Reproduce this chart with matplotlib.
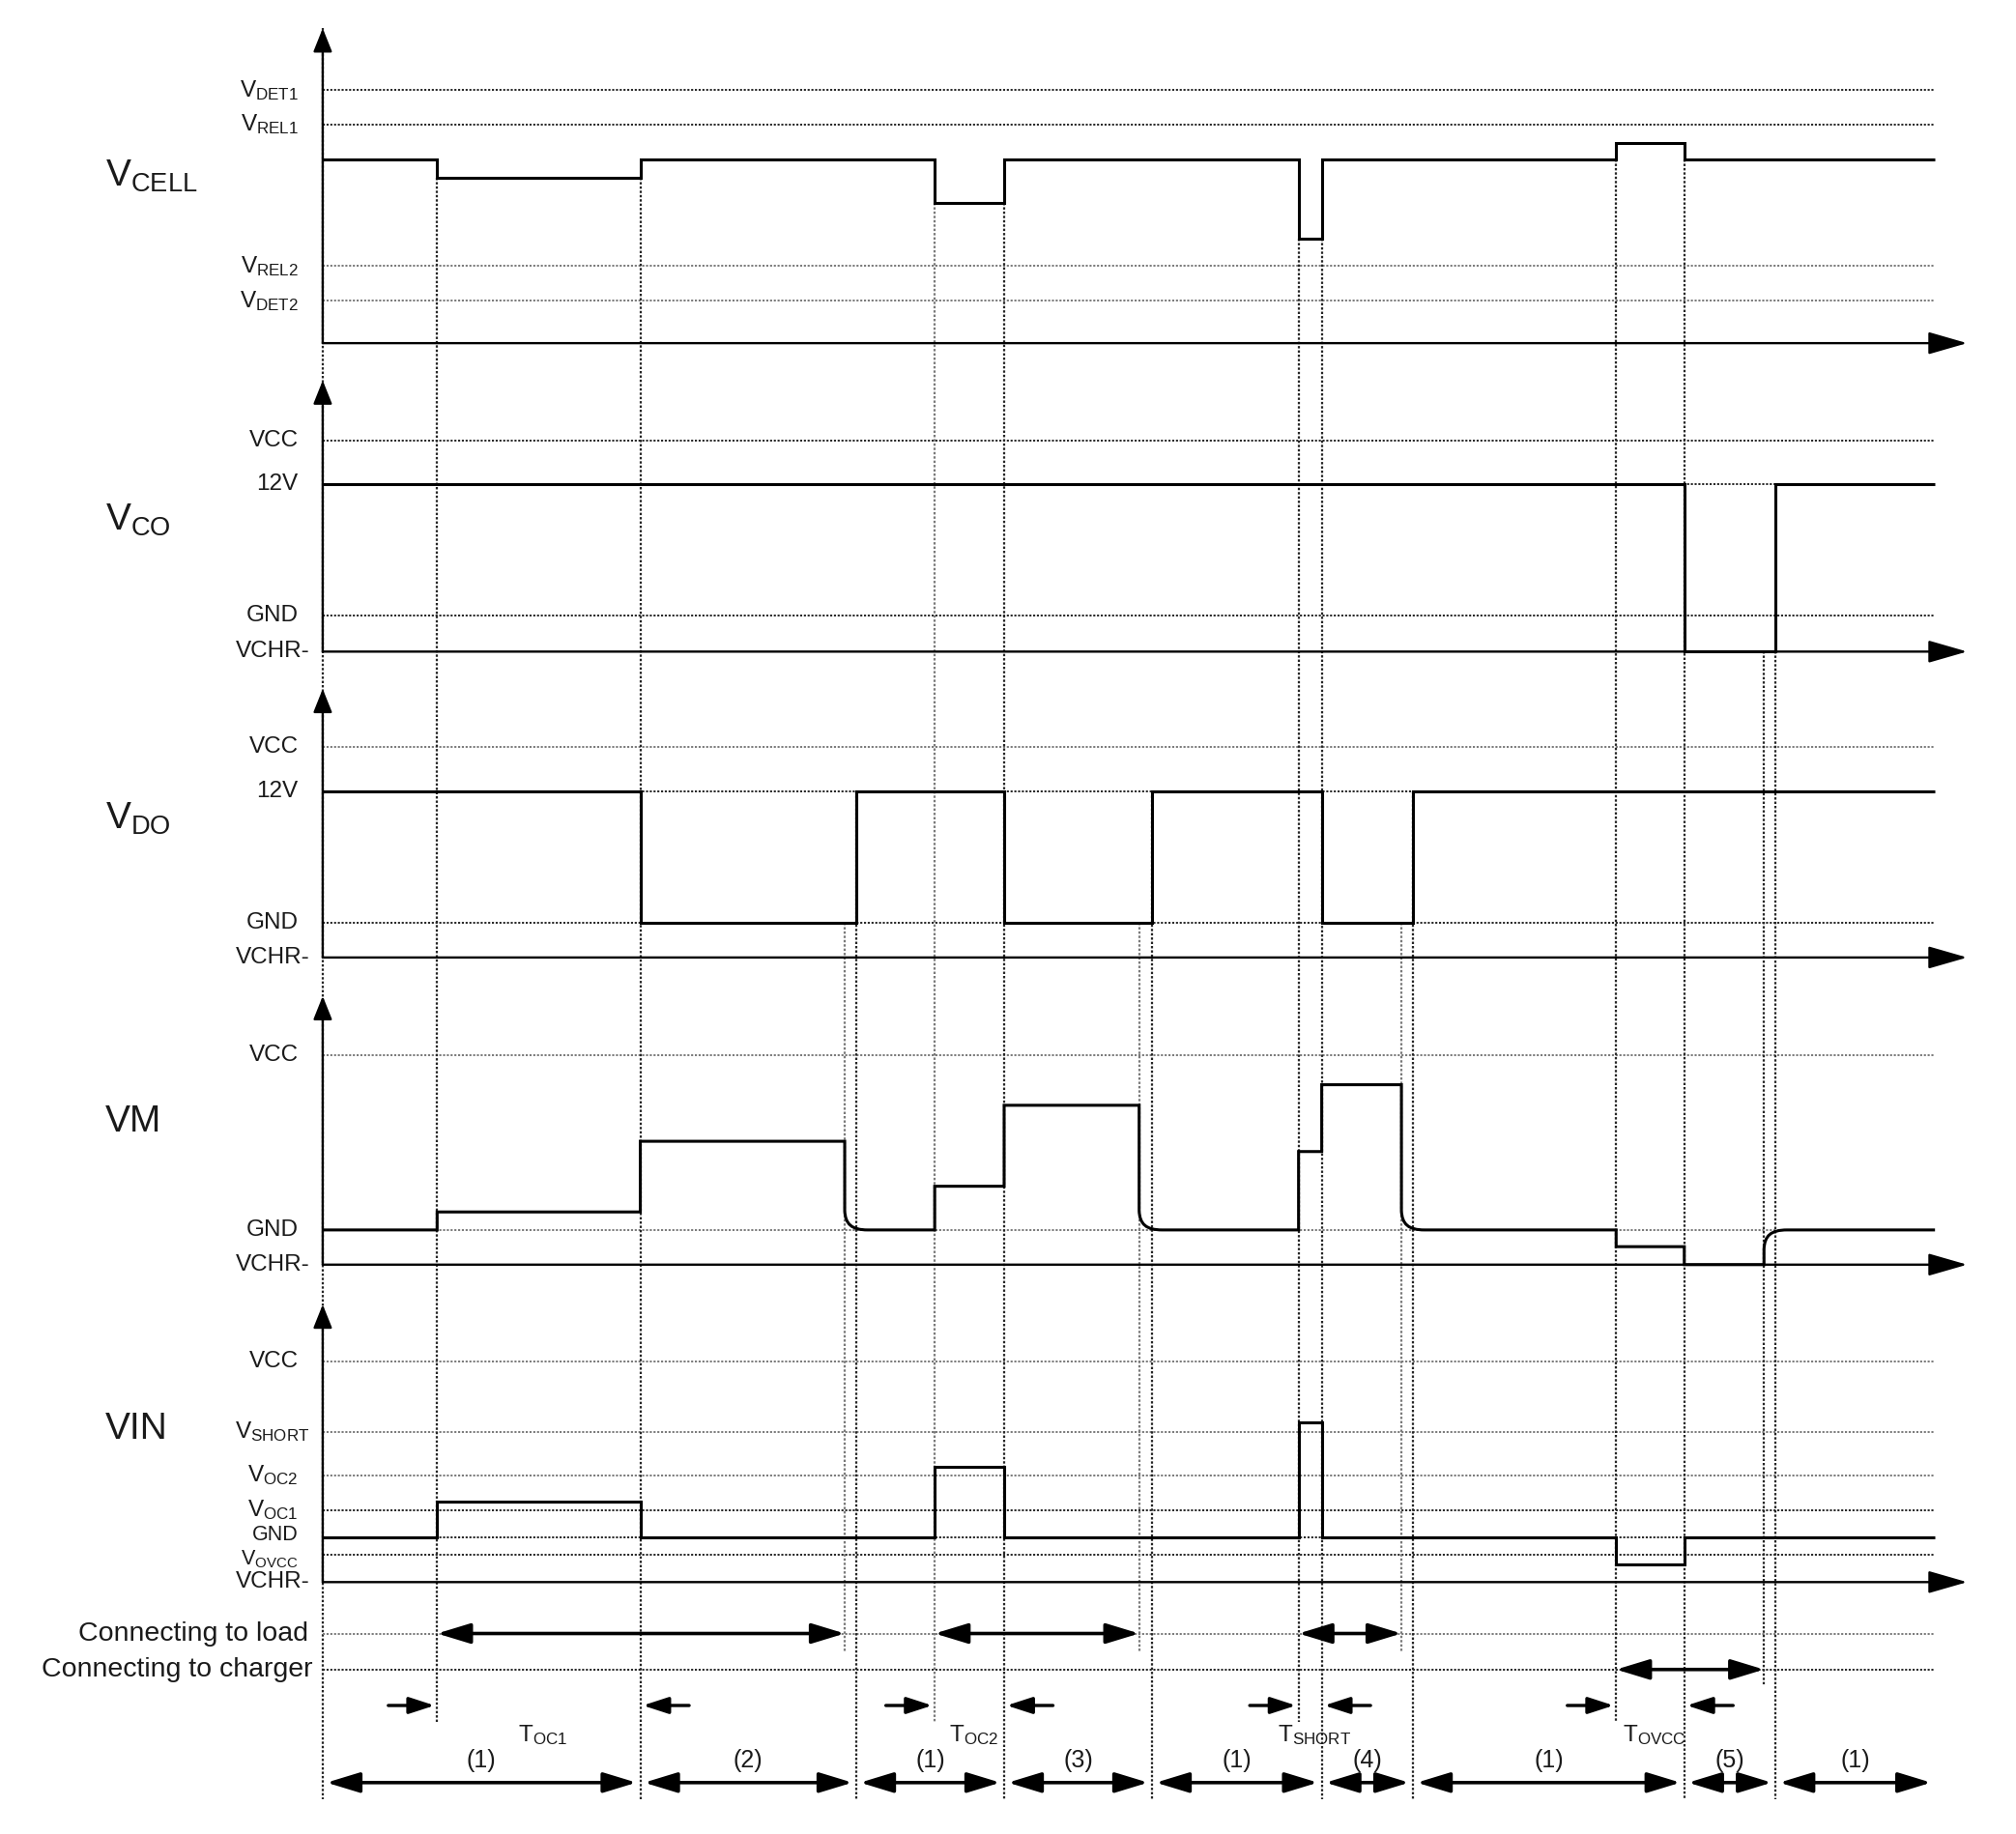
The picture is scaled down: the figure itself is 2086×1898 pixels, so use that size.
import numpy as np
import matplotlib
matplotlib.use('Agg')
import matplotlib.pyplot as plt
from matplotlib.path import Path
from matplotlib.patches import PathPatch

plt.rcParams['font.family'] = ['Liberation Sans', 'DejaVu Sans']
plt.rcParams['mathtext.fontset'] = 'custom'
plt.rcParams['mathtext.rm'] = 'Liberation Sans'
plt.rcParams['mathtext.it'] = 'Liberation Sans:italic'
plt.rcParams['mathtext.bf'] = 'Liberation Sans:bold'

# ---------------- data ----------------
# time axis (diagram units)
t0, t_end, t_tip = 251, 1505, 1530

# event times
t_oc1_on, t_oc1_off = 340, 498
t_load1_off, t_rec1 = 657, 666
t_oc2_on, t_oc2_off = 727, 781
t_load2_off, t_rec2 = 886, 896
t_sc_on, t_sc_off = 1010, 1028
t_load3_off, t_rec3 = 1090, 1099
t_ov_on, t_ov_off = 1257, 1310
t_chg_off, t_rec4 = 1372, 1381

# reference levels per panel (height above the panel's time axis)
vcell_ref_labels = [r'$\mathrm{V_{DET1}}$', r'$\mathrm{V_{REL1}}$', r'$\mathrm{V_{REL2}}$', r'$\mathrm{V_{DET2}}$']
vcell_ref_levels = [197, 170, 60, 33]
vco_ref_labels = ['VCC', '12V', 'GND', 'VCHR-']
vco_ref_levels = [164, 130, 28, 0]
vdo_ref_labels = ['VCC', '12V', 'GND', 'VCHR-']
vdo_ref_levels = [164, 129, 27, 0]
vm_ref_labels = ['VCC', 'GND', 'VCHR-']
vm_ref_levels = [163, 27, 0]
vin_ref_labels = ['VCC', r'$\mathrm{V_{SHORT}}$', r'$\mathrm{V_{OC2}}$', r'$\mathrm{V_{OC1}}$',
                  'GND', r'$\mathrm{V_{OVCC}}$', 'VCHR-']
vin_ref_levels = [172, 117, 83, 56, 35, 21, 0]

# waveforms: edges in time, levels between edges
vcell_edges = [t0, t_oc1_on, t_oc1_off, t_oc2_on, t_oc2_off, t_sc_on, t_sc_off, t_ov_on, t_ov_off, t_end]
vcell_levels = [143, 129, 143, 109, 143, 81, 143, 156, 143]
vco_edges = [t0, t_ov_off, t_rec4, t_end]
vco_levels = [130, 0, 130]
vdo_edges = [t0, t_oc1_off, t_rec1, t_oc2_off, t_rec2, t_sc_off, t_rec3, t_end]
vdo_levels = [129, 27, 129, 27, 129, 27, 129]
vm_edges = [t0, t_oc1_on, t_oc1_off, t_load1_off, t_oc2_on, t_oc2_off, t_load2_off,
            t_sc_on, t_sc_off, t_load3_off, t_ov_on, t_ov_off, t_chg_off, t_end]
vm_levels = [27, 41, 96, 27, 61, 124, 27, 88, 140, 27, 14, 0, 27]
vm_smooth = [t_load1_off, t_load2_off, t_load3_off, t_chg_off]
vin_edges = [t0, t_oc1_on, t_oc1_off, t_oc2_on, t_oc2_off, t_sc_on, t_sc_off, t_ov_on, t_ov_off, t_end]
vin_levels = [35, 63, 35, 90, 35, 124, 35, 14, 35]

load_spans = [(t_oc1_on, t_load1_off), (t_oc2_on, t_load2_off), (t_sc_on, t_load3_off)]
charger_spans = [(t_ov_on, t_chg_off)]
timer_names = ['OC1', 'OC2', 'SHORT', 'OVCC']
timer_spans = [(t_oc1_on, t_oc1_off), (t_oc2_on, t_oc2_off), (t_sc_on, t_sc_off), (t_ov_on, t_ov_off)]
phase_edges = [t0, t_oc1_off, t_rec1, t_oc2_off, t_rec2, t_sc_off, t_rec3, t_ov_off, t_rec4, t_end]
phase_labels = ['(1)', '(2)', '(1)', '(3)', '(1)', '(4)', '(1)', '(5)', '(1)']

# ---------------- layout ----------------
W, H = 1568, 1427
panel_base = {'VCELL': 267, 'VCO': 507, 'VDO': 745, 'VM': 984, 'VIN': 1231}
panel_top = {'VCELL': 22, 'VCO': 296, 'VDO': 536, 'VM': 775, 'VIN': 1015}
panel_title = {'VCELL': (r'$\mathrm{V_{CELL}}$', 137), 'VCO': (r'$\mathrm{V_{CO}}$', 405),
               'VDO': (r'$\mathrm{V_{DO}}$', 637), 'VM': ('VM', 873), 'VIN': ('VIN', 1112)}
load_y, chg_y = 1271, 1299
timer_arrow_y, timer_label_y = 1327, 1350
phase_label_y, phase_arrow_y = 1370, 1387
mark_bottom, timer_bottom, load_bottom, chg_bottom = 1400, 1340, 1285, 1312

DARK, GREY = '#262626', '#7a7a7a'
DOT = (0, (1.1, 0.9))
TXT = '#1a1a1a'

# label tweaks where labels sit close together (VIN: GND / VOVCC)
label_shift = {'GND@VIN': -2, r'$\mathrm{V_{OVCC}}$': 3}
label_size = {'GND@VIN': 15.5, r'$\mathrm{V_{OVCC}}$': 15.5}

fig = plt.figure(figsize=(20.86, 18.98), dpi=100)
ax = fig.add_axes([0, 0, 1, 1])
ax.set_xlim(0, W)
ax.set_ylim(H, 0)
ax.axis('off')


def Y(panel, level):
    return panel_base[panel] - level


def arrow(x1, y1, x2, y2, style='-|>', hl=1.0, hw=0.3, ms=20, lw=2.2, color='k', z=5):
    ax.annotate('', xy=(x2, y2), xytext=(x1, y1),
                arrowprops=dict(arrowstyle=f'{style},head_length={hl},head_width={hw}',
                                mutation_scale=ms, lw=lw, color=color,
                                shrinkA=0, shrinkB=0), zorder=z)


def wave(panel, edges, levels, smooth=()):
    base = panel_base[panel]
    verts = [(edges[0], base - levels[0])]
    codes = [Path.MOVETO]
    for i in range(1, len(levels)):
        t = edges[i]
        y0, y1 = base - levels[i - 1], base - levels[i]
        verts.append((t, y0))
        codes.append(Path.LINETO)
        if t in smooth:
            s = np.sign(y1 - y0)
            c = min(15, 0.55 * abs(y1 - y0))
            w = 18
            verts += [(t, y1 - s * c), (t + 0.5, y1 - s * 0.3 * c), (t + 0.3 * w, y1), (t + w, y1)]
            codes += [Path.LINETO, Path.CURVE4, Path.CURVE4, Path.CURVE4]
        else:
            verts.append((t, y1))
            codes.append(Path.LINETO)
    verts.append((edges[-1], base - levels[-1]))
    codes.append(Path.LINETO)
    ax.add_patch(PathPatch(Path(verts, codes), fill=False, lw=2.2, color='k',
                           joinstyle='miter', capstyle='butt', zorder=4))


def refs(panel, labels, levels, greys=()):
    for lab, lv in zip(labels, levels):
        y = Y(panel, lv)
        if lv > 0:
            ax.plot([t0, t_end], [y, y], ls=DOT, lw=1.4,
                    color=GREY if lab in greys else DARK, zorder=2)
        key = lab + '@' + panel if lab + '@' + panel in label_shift else lab
        xr = 241 if lab in ('VCHR-', r'$\mathrm{V_{SHORT}}$') else 232
        ax.text(xr, y + label_shift.get(key, 0), lab, ha='right', va='center',
                fontsize=label_size.get(key, 17.5), color=TXT)


# y-axis extension (dotted) through the whole diagram
ax.plot([t0, t0], [panel_top['VCELL'], mark_bottom], ls=DOT, lw=1.6, color=DARK, zorder=1)

# panel axes
for p in panel_base:
    b = panel_base[p]
    arrow(t0, b, t0, panel_top[p], hl=0.75, hw=0.3, ms=20, lw=1.7)
    arrow(t0, b, t_tip, b, hl=1.25, hw=0.36, ms=20, lw=1.7)
    txt, ty = panel_title[p]
    ax.text(82, ty, txt, ha='left', va='center', fontsize=28, color=TXT)

refs('VCELL', vcell_ref_labels, vcell_ref_levels, greys=(r'$\mathrm{V_{REL2}}$', r'$\mathrm{V_{DET2}}$'))
refs('VCO', vco_ref_labels, vco_ref_levels)
refs('VDO', vdo_ref_labels, vdo_ref_levels, greys=('VCC',))
refs('VM', vm_ref_labels, vm_ref_levels, greys=('VCC', 'GND'))
refs('VIN', vin_ref_labels, vin_ref_levels,
     greys=('VCC', r'$\mathrm{V_{SHORT}}$', r'$\mathrm{V_{OC2}}$'))

wave('VCELL', vcell_edges, vcell_levels)
wave('VCO', vco_edges, vco_levels)
wave('VDO', vdo_edges, vdo_levels)
wave('VM', vm_edges, vm_levels, smooth=vm_smooth)
wave('VIN', vin_edges, vin_levels)


# vertical marker lines
def vcell_low(t):
    i = vcell_edges.index(t)
    return Y('VCELL', min(vcell_levels[i - 1], vcell_levels[i]))


def vline(x, y1, y2, color=DARK):
    ax.plot([x, x], [y1, y2], ls=DOT, lw=1.6, color=color, zorder=3)


for t, _ in timer_spans:
    vline(t, vcell_low(t), timer_bottom, GREY if t == t_oc2_on else DARK)
for t in (t_oc1_off, t_oc2_off, t_sc_off, t_ov_off):
    vline(t, vcell_low(t), mark_bottom)
for t in (t_rec1, t_rec2, t_rec3):
    vline(t, Y('VDO', vdo_levels[0]), mark_bottom)
for t in (t_load1_off, t_load2_off, t_load3_off):
    vline(t, Y('VDO', vdo_levels[1]), load_bottom, GREY)
vline(t_rec4, Y('VCO', 0), mark_bottom)
vline(t_chg_off, Y('VCO', 0), chg_bottom)

# connecting rows
ax.plot([t0, t_end], [load_y, load_y], ls=DOT, lw=1.4, color=GREY, zorder=2)
ax.plot([t0, t_end], [chg_y, chg_y], ls=DOT, lw=1.4, color=DARK, zorder=2)
ax.text(240, load_y, 'Connecting to load', ha='right', va='center', fontsize=20.5, color=TXT)
ax.text(243, chg_y, 'Connecting to charger', ha='right', va='center', fontsize=20.5, color=TXT)
for a, b in load_spans:
    arrow(a, load_y, b, load_y, style='<|-|>', hl=1.05, hw=0.32, lw=2.6)
for a, b in charger_spans:
    arrow(a, chg_y, b, chg_y, style='<|-|>', hl=1.05, hw=0.32, lw=2.6)

# timer markers
for name, (a, b) in zip(timer_names, timer_spans):
    arrow(a - 38, timer_arrow_y, a - 2, timer_arrow_y, hl=0.8, hw=0.26, lw=2.4)
    arrow(b + 38, timer_arrow_y, b + 2, timer_arrow_y, hl=0.8, hw=0.26, lw=2.4)
    ax.text((a + b) / 2 + 3, timer_label_y, r'$\mathrm{T_{%s}}$' % name, ha='center',
            va='center', fontsize=17.5, color=TXT)

# phases
for i, lab in enumerate(phase_labels):
    a, b = phase_edges[i], phase_edges[i + 1]
    arrow(a + 3, phase_arrow_y, b - 3, phase_arrow_y, style='<|-|>', hl=1.05, hw=0.32, lw=2.6)
    ax.text((a + b) / 2, phase_label_y, lab, ha='center', va='center', fontsize=18, color=TXT)

fig.savefig('out.png', dpi=100, facecolor='white')
